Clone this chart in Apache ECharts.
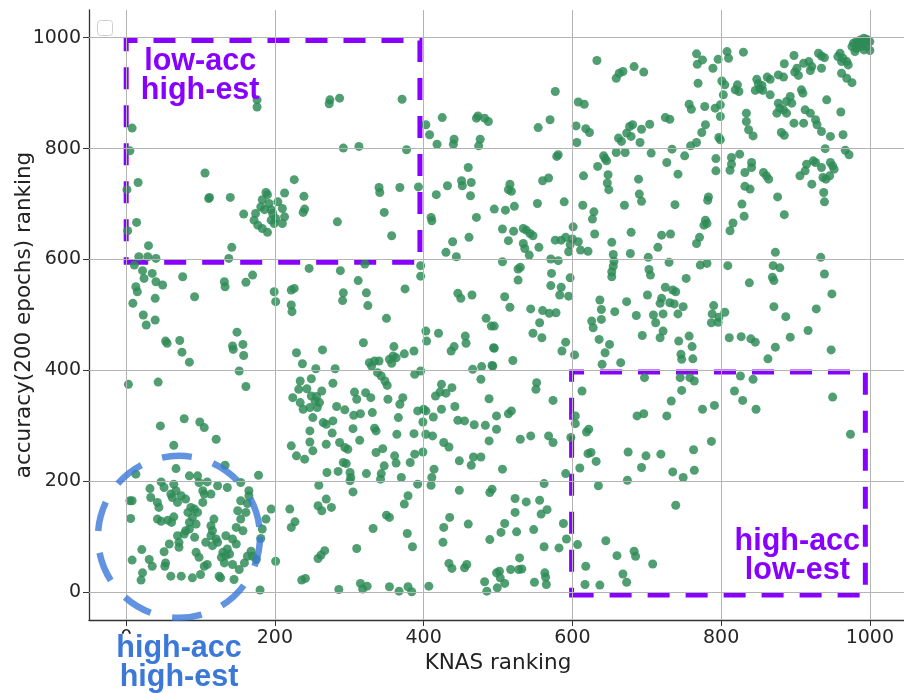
<!DOCTYPE html>
<html><head><meta charset="utf-8">
<script src="https://cdn.jsdelivr.net/npm/echarts@6/dist/echarts.min.js"></script>
<style>html,body{margin:0;padding:0;background:#fff}#c{width:904px;height:693px}</style>
</head><body><div id="c"></div>
<script>
const xTicks = [0, 200, 400, 600, 800, 1000];
const yTicks = [0, 200, 400, 600, 800, 1000];

const ptsTopLeft = [[8,837],[5,796],[1,726],[16,739],[14,667],[2,652],[106,756],[111,710],[112,712],[140,712],[158,682],[142,622],[138,602],[176,888],[176,875],
[188,721],[190,717],[183,708],[181,695],[174,683],[172,671],[177,662],[183,656],[190,649],[195,690],[197,683],[201,674],[199,665],[195,671],[204,704],[213,720],[210,692],[213,677],[210,665],[192,701],[186,690],[226,744],
[30,625],[17,605],[29,605],[40,602],[11,590],[22,580],[35,575],[24,566],[40,560],[49,554],[13,551],[15,542],[9,521],[39,530],[23,500],[76,569],[92,533],[132,560],[133,551],[161,559],[170,572],[199,542],[201,524],[222,545],[226,548],[222,518],[223,506],[39,491]];

const ptsTopMid = [[274,888],[273,881],[287,891],[371,889],[403,843],[408,825],[418,808],[425,856],[441,817],[440,808],[473,859],[471,855],[482,855],[487,849],[476,817],[474,805],[292,801],[313,804],[377,798],[239,714],[240,691],[238,685],[284,668],[340,730],[341,721],[368,730],[393,731],[347,685],[357,643],[417,717],[432,733],[451,742],[452,733],[464,739],[460,766],[463,715],[410,676],[411,670],[471,676],[495,691],[439,632],[430,613],[444,605],[461,640],[246,584],[288,580],[321,592],[312,562],[323,540],[292,540],[291,526],[325,517],[375,547],[396,589],[396,570],[446,539],[450,530],[465,536],[484,494],[350,494]];

const ptsTopCenterRight = [[633,959],[659,927],[663,936],[668,939],[683,948],[696,938],[577,903],[608,884],[616,880],[554,838],[570,852],[605,841],[618,836],[623,829],[606,811],[662,819],[666,813],[673,828],[677,840],[681,843],[679,822],[693,835],[691,811],[704,844],[725,856],[731,853],[659,793],[671,793],[706,792],[734,799],[727,775],[751,787],[742,754],[759,805],[767,811],[757,880],[760,871],[767,971],[768,952],[769,918],
[642,787],[644,782],[646,778],[634,768],[615,751],[648,753],[647,738],[649,726],[689,745],[690,718],[693,705],[670,698],[738,699],[614,698],[629,686],[627,673],[630,646],[653,631],[679,649],[678,611],[720,644],[732,646],[715,622],[702,604],[703,582],[705,572],[730,595],[753,566],[767,629],
[655,609],[656,597],[655,588],[653,578],[653,569],
[581,789],[579,786],[560,742],[568,747],[516,736],[514,726],[518,723],[510,689],[522,696],[553,701],[589,704],[506,655],[521,651],[514,634],[534,656],[538,653],[543,647],[534,629],[536,620],[542,608],[547,643],[555,622],[577,635],[585,635],[591,640],[597,627],[595,614],[601,659],[600,637],[608,632],[611,617],[621,615],[506,596],[527,583],[530,586],[527,563],[571,601],[581,598],[572,575],[597,567],[571,553],[585,550],[583,536],[595,534],[509,533],[516,514],[544,511],[560,508],[569,503],[578,504],[637,527],[639,510],[673,524],[657,506],[701,536],[720,530],[725,550],[735,545],[739,542],[731,522],[737,520],[718,521],[749,515],[686,499],[709,500],[722,502],[742,502]];

const ptsTopRight = [[978,990],[982,993],[987,996],[992,999],[996,997],[1000,993],[994,990],[989,984],[982,981],[980,975],[996,984],[984,987],[1000,977],[976,984],[992,978],[990,992],[985,991],[995,995],
[960,972],[964,963],[969,957],[962,957],[971,951],[962,936],[969,927],[976,919],[935,945],[957,966],
[931,972],[935,967],[939,964],[898,968],[885,953],[902,945],[911,954],[918,957],[922,948],[920,941],[899,938],[904,932],[884,929],[877,933],[866,925],[862,929],[848,925],[850,917],[852,908],[846,905],[856,905],[866,897],[855,914],
[808,975],[810,963],[830,974],[796,961],[789,945],[775,960],[801,922],[805,915],[803,897],[822,915],[824,903],[819,906],
[893,894],[888,885],[895,882],[877,882],[879,873],[884,870],[875,864],[888,864],[898,846],[908,906],[910,900],[913,870],[920,864],[911,846],[927,852],[929,843],[935,831],[947,822],[942,888],[961,866],[964,825],[940,800],[967,797],[972,789],[881,829],[885,824],
[834,864],[834,849],[837,834],[843,823],[778,876],[792,873],[799,879],[799,858],[779,843],[774,829],[797,820],[799,816],
[793,782],[793,760],[814,784],[814,772],[812,761],[825,790],[841,775],[841,766],[832,757],[857,757],[861,751],[864,745],[832,732],[839,727],[906,751],[915,772],[913,760],[924,778],[927,775],[935,766],[937,748],[941,745],[922,736],[947,775],[950,769],[952,763],[946,751],[938,721],[939,704],
[783,713],[782,707],[779,671],[781,665],[777,662],[828,700],[831,678],[876,713],[885,681],[812,652],[816,666],[771,640],
[873,613],[870,589],[879,585],[869,568],[871,562],[838,558],[809,589],[772,590],[781,593],[934,604],[939,574],[949,538],[928,511],[871,515],[887,497],[805,505],[790,517],[788,502],[797,496]];

const ptsBottomLeft = [[27,482],[53,453],[55,449],[72,454],[75,433],[85,415],[149,469],[143,444],[144,438],[157,447],[158,427],[152,399],[161,371],[3,375],[43,379],
[46,300],[78,313],[99,307],[105,297],[121,276],[64,265],[67,223],[133,229],[178,211],
[13,213],[5,165],[8,165],[6,133],[32,187],[33,171],[47,199],[51,189],[60,177],[62,171],[69,162],[64,195],[67,183],[80,168],[74,174],[42,162],[44,153],[42,132],[47,128],[56,130],[64,136],[61,126],[85,210],[96,210],[98,198],[109,199],[123,192],[136,189],[154,198],[165,183],[165,174],[103,183],[105,177],[114,177],[103,162],[87,153],[83,144],[92,150],[96,144],[89,135],[85,126],[94,123],[85,114],[80,111],[78,105],[69,102],[71,90],[71,81],[58,87],[92,99],[107,90],[118,132],[114,120],[116,111],[114,102],[121,96],[123,90],[116,84],[134,102],[148,117],[150,147],[154,132],[157,111],[161,144],[163,160],[154,165],[143,96],[148,87],[136,78],[134,66],[130,72],[128,63],[132,53],[139,69],[143,50],[152,41],[159,53],[168,74],[170,65],[175,59],[181,97],[183,114],[188,132],[195,150],[163,65],[21,77],[8,58],[31,59],[35,47],[22,35],[20,22],[53,53],[52,47],[51,73],[60,29],[74,29],[89,26],[100,32],[105,47],[109,50],[94,72],[98,63],[125,29],[127,26],[145,23],[180,4],[201,56]];

const ptsBottomMid = [[319,450],[264,437],[229,432],[237,412],[255,403],[281,403],[327,414],[330,408],[334,417],[340,417],[354,420],[359,426],[363,423],[360,443],[374,430],[387,435],[357,413],[338,396],[343,390],[348,381],[351,373],[388,393],[396,399],[403,471],[420,467],[404,453],[437,435],[441,443],[456,462],[457,449],[491,480],[494,441],[466,402],[478,407],[477,384],[492,409],
[234,381],[249,385],[232,366],[243,367],[224,351],[234,342],[238,330],[249,354],[254,345],[256,353],[263,363],[260,342],[247,333],[257,333],[278,377],[283,335],[294,329],[307,361],[310,348],[322,360],[329,351],[306,319],[315,322],[331,324],[352,348],[368,339],[372,351],[251,315],[265,306],[269,303],[278,309],[277,287],[247,291],[305,295],[334,296],[336,291],[364,285],[366,315],[392,327],[400,330],[403,327],[399,307],[403,285],[412,282],[413,316],[424,375],[416,354],[422,361],[430,359],[438,369],[442,335],[424,330],[446,310],[455,309],[468,302],[483,301],[488,349],[498,318],[488,273],[498,294],[427,270],[434,262],
[222,264],[247,271],[251,255],[229,246],[240,240],[269,267],[287,270],[294,261],[298,258],[314,274],[292,234],[296,232],[301,216],[302,207],[301,201],[305,181],[270,216],[285,218],[323,214],[336,252],[345,259],[343,214],[342,204],[347,228],[361,246],[363,233],[370,207],[382,234],[388,249],[387,286],[399,253],[392,195],[414,222],[410,193],[411,207],[448,237],[464,229],[467,244],[477,244],[448,184],[489,180],[492,186],
[220,150],[227,127],[222,117],[259,193],[269,168],[258,156],[263,147],[276,153],[379,174],[374,159],[350,139],[354,135],[332,115],[378,106],[385,82],[310,79],[258,61],[262,67],[267,75],[236,22],[241,25],[286,5],[315,16],[318,6],[324,11],[354,10],[367,2],[379,10],[384,1],[407,11],[435,135],[427,117],[426,90],[460,123],[434,52],[438,43],[455,44],[458,50],[489,95],[482,19],[485,2],[498,35]];

const ptsBottomCenterRight = [[495,480],[493,408],[495,440],[520,418],[547,467],[559,459],[556,486],[586,435],[591,451],[603,428],[626,489],[628,477],[639,492],[636,456],[644,432],[650,447],[640,411],[665,414],[694,463],[712,486],[718,459],[722,471],[743,453],[746,429],[747,420],[757,462],[762,421],[697,387],[745,387],[758,387],[764,381],
[552,378],[551,366],[574,346],[514,322],[518,327],[530,276],[544,282],[568,282],[574,270],[506,222],[562,196],[591,214],[613,363],[604,318],[604,304],[598,279],[619,289],[622,294],[621,250],[625,252],[632,236],[610,224],[635,192],[687,318],[696,322],[727,318],[747,364],[733,345],[675,253],[699,246],[719,249],[693,225],[735,217],[749,207],[763,257],[764,220],[674,202],[739,157],
[523,169],[538,163],[556,166],[566,149],[558,141],[523,144],[509,124],[548,113],[525,109],[504,108],[588,124],[592,96],[582,80],[562,82],[529,62],[517,41],[528,41],[532,42],[502,38],[503,26],[509,16],[499,8],[549,18],[563,35],[564,27],[565,14],[607,86],[645,93],[660,66],[683,74],[685,65],[708,51],[618,47],[617,14],[637,13],[668,33],[673,18]];

const ptsBottomRight = [[787,486],[796,487],[811,459],[827,461],[840,457],[846,451],[893,460],[917,472],[873,442],[863,421],[948,437],[761,443],[826,390],[843,384],[818,363],[829,346],[847,330],[775,330],[791,337],[950,352],[974,285],[787,272]];

// annotations (data coordinates)
const lowAccBox = [[0, 595], [395, 995]];
const highAccBox = [[599, -5], [994, 397]];
const highHighCircleCenter = [71, 100];
const lowAccLabelAt = [99.5, 931];
const highAccLabelAt = [902.5, 65.5];
const highHighLabelAt = [71, -127];

const allPoints = [].concat(ptsTopLeft, ptsTopMid, ptsTopCenterRight, ptsTopRight,
  ptsBottomLeft, ptsBottomMid, ptsBottomCenterRight, ptsBottomRight);

const chart = echarts.init(document.getElementById('c'), null, {renderer: 'canvas'});
const PURPLE = '#8800ff';
const BLUE = '#3b78d8';
function makeAxis(ticks) {
  return {
    type: 'value', min: -50, max: 1050,
    axisLine: {show: true, onZero: false, lineStyle: {color: '#333', width: 1.3}},
    axisTick: {show: true, inside: false, length: 6, customValues: ticks, lineStyle: {color: '#333', width: 1}},
    axisLabel: {customValues: ticks, color: '#262626', fontSize: 19, fontFamily: 'DejaVu Sans',
      formatter: v => String(v)},
    splitLine: {show: false}
  };
}
const xAx = makeAxis(xTicks);
Object.assign(xAx, {name: 'KNAS ranking', nameLocation: 'middle', nameGap: 26,
  nameTextStyle: {fontSize: 21.5, color: '#222', fontFamily: 'DejaVu Sans'}});
xAx.axisLabel.margin = 9;
const yAx = makeAxis(yTicks);
Object.assign(yAx, {name: 'accuracy(200 epochs) ranking', nameLocation: 'middle', nameGap: 54, nameRotate: 90,
  nameMoveOverlap: false,
  nameTextStyle: {fontSize: 21.5, color: '#222', fontFamily: 'DejaVu Sans'}});
yAx.axisLabel.margin = 8;

chart.setOption({
  animation: false,
  backgroundColor: '#fff',
  grid: {left: 89, right: -3, top: 10, bottom: 73, containLabel: false, outerBoundsMode: 'none'},
  xAxis: xAx,
  yAxis: yAx,
  series: [
    {type: 'scatter', data: [], z: 1, silent: true,
      markLine: {silent: true, symbol: 'none', animation: false, label: {show: false},
        lineStyle: {color: '#b4b4b4', width: 1, type: 'solid'},
        data: xTicks.map(v => ({xAxis: v})).concat(yTicks.map(v => ({yAxis: v})))}},
    {type: 'scatter', data: allPoints, z: 2, symbolSize: 9, silent: true,
      itemStyle: {color: '#2e8b57', opacity: 0.84}},
    {type: 'scatter', data: [], z: 4, silent: true,
      markArea: {silent: true,
        itemStyle: {color: 'rgba(0,0,0,0)', borderColor: PURPLE, borderWidth: 5, borderType: [22, 16]},
        data: [
          [{xAxis: lowAccBox[0][0], yAxis: lowAccBox[0][1]}, {xAxis: lowAccBox[1][0], yAxis: lowAccBox[1][1]}],
          [{xAxis: highAccBox[0][0], yAxis: highAccBox[0][1]}, {xAxis: highAccBox[1][0], yAxis: highAccBox[1][1]}]
        ]}},
    {type: 'scatter', data: [highHighCircleCenter], z: 5, silent: true, symbolSize: 162, clip: false,
      itemStyle: {color: 'rgba(0,0,0,0)', borderColor: BLUE, borderWidth: 6.5, borderType: [30, 22]}}
  ]
});

const pLow = chart.convertToPixel({gridIndex: 0}, lowAccLabelAt);
const pHigh = chart.convertToPixel({gridIndex: 0}, highAccLabelAt);
const pHH = chart.convertToPixel({gridIndex: 0}, highHighLabelAt);
const txt = (p, text, color, z, bg) => ({type: 'text', x: p[0], y: p[1], z: z, silent: true,
  style: {text: text, fill: color, fontSize: 30.5, fontWeight: 'bold', fontFamily: 'Liberation Sans',
    align: 'center', verticalAlign: 'middle', lineHeight: 29, backgroundColor: bg || 'transparent'}});
chart.setOption({graphic: [
  {type: 'rect', z: 6, silent: true, shape: {x: 97.5, y: 20.5, width: 15, height: 15, r: 3},
    style: {fill: '#fff', stroke: '#cfcfcf', lineWidth: 1}},
  txt(pLow, 'low-acc\nhigh-est', PURPLE, 6),
  txt(pHigh, 'high-acc\nlow-est', PURPLE, 3),
  txt(pHH, 'high-acc\nhigh-est', BLUE, 6, '#ffffff')
]});
</script></body></html>
